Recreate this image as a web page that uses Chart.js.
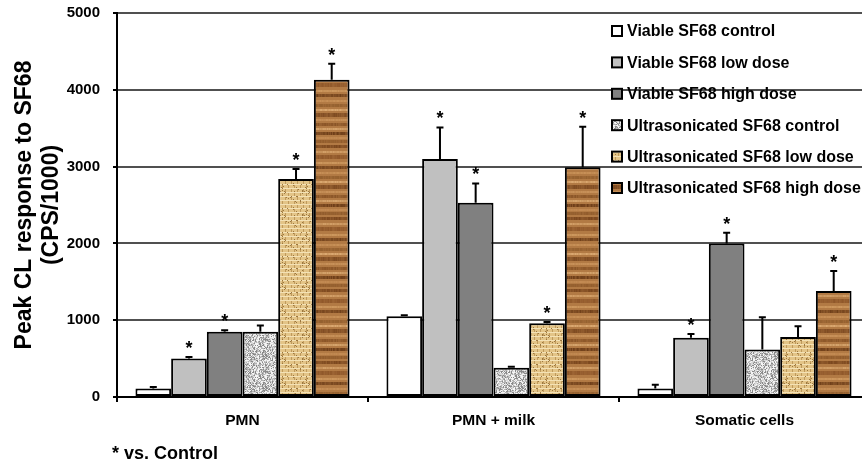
<!DOCTYPE html>
<html>
<head>
<meta charset="utf-8">
<script src="https://cdn.jsdelivr.net/npm/chart.js@4.4.1/dist/chart.umd.min.js"></script>
<style>
    html, body { margin: 0; padding: 0; background: #fff; overflow: hidden; }
    canvas { display: block; }
</style>
</head>
<body>
<canvas id="chartPeak" width="872" height="464"></canvas>
<script>
var categories = ['PMN', 'PMN + milk', 'Somatic cells'];
var seriesLabels = [
    'Viable SF68 control',
    'Viable SF68 low dose',
    'Viable SF68 high dose',
    'Ultrasonicated SF68 control',
    'Ultrasonicated SF68 low dose',
    'Ultrasonicated SF68 high dose'
];

// mean values (CPS/1000)
var viableControl = [110, 1050, 110];
var viableLow = [500, 3100, 770];
var viableHigh = [850, 2530, 2000];
var ultraControl = [850, 380, 620];
var ultraLow = [2840, 960, 780];
var ultraHigh = [4130, 2990, 1380];

// upper error bars
var viableControlErr = [20, 15, 50];
var viableLowErr = [20, 410, 50];
var viableHighErr = [20, 250, 140];
var ultraControlErr = [80, 15, 420];
var ultraLowErr = [130, 15, 140];
var ultraHighErr = [210, 530, 260];

// * = significant vs. control
var viableControlSig = [0, 0, 0];
var viableLowSig = [1, 1, 1];
var viableHighSig = [1, 1, 1];
var ultraControlSig = [0, 0, 0];
var ultraLowSig = [1, 1, 0];
var ultraHighSig = [1, 1, 1];

var yTicks = [0, 1000, 2000, 3000, 4000, 5000];

var fontFamily = "'Liberation Sans', Arial, sans-serif";

// small deterministic hash used only for the bar textures
function grain(x, y, k) {
    var v = Math.sin(x * 12.9898 + y * 78.233 + k * 37.719) * 43758.5453;
    return v - Math.floor(v);
}

function speckleFill() {
    var c = document.createElement('canvas');
    c.width = 32; c.height = 32;
    var g = c.getContext('2d');
    g.fillStyle = '#d4d4d4';
    g.fillRect(0, 0, 32, 32);
    for (var x = 0; x < 32; x++) {
        for (var y = 0; y < 32; y++) {
            var v = grain(x, y, 1);
            if (v < 0.22) g.fillStyle = '#8a8a8a';
            else if (v < 0.45) g.fillStyle = '#b2b2b2';
            else if (v < 0.75) g.fillStyle = '#d9d9d9';
            else g.fillStyle = '#f5f5f5';
            g.fillRect(x, y, 1, 1);
        }
    }
    return g.createPattern(c, 'repeat');
}

function weaveFill() {
    var c = document.createElement('canvas');
    c.width = 24; c.height = 24;
    var g = c.getContext('2d');
    g.fillStyle = '#e3c487';
    g.fillRect(0, 0, 24, 24);
    for (var row = 0; row < 6; row++) {
        var off = (row % 2) * 3;
        g.fillStyle = '#f4e2b6';
        g.fillRect(0, row * 4, 24, 1);
        g.fillStyle = '#bf9a5c';
        for (var col = 0; col < 4; col++) {
            g.fillRect((col * 6 + off) % 24, row * 4 + 1, 1, 3);
        }
    }
    for (var x = 0; x < 24; x++) {
        for (var y = 0; y < 24; y++) {
            if (grain(x, y, 2) < 0.05) {
                g.fillStyle = '#9c7840';
                g.fillRect(x, y, 1, 1);
            }
        }
    }
    return g.createPattern(c, 'repeat');
}

function woodFill() {
    var c = document.createElement('canvas');
    c.width = 40; c.height = 72;
    var g = c.getContext('2d');
    g.fillStyle = '#b27a44';
    g.fillRect(0, 0, 40, 72);
    var stripes = [
        [1, 3, '#7a461d'], [7, 2, '#d3a068'], [11, 4, '#8e5629'], [18, 2, '#cf9a60'],
        [22, 3, '#6f3f19'], [28, 2, '#c89158'], [32, 3, '#94602f'], [37, 2, '#dcaa72'],
        [41, 4, '#7d4a21'], [47, 2, '#c8925a'], [51, 3, '#8a5527'], [56, 2, '#d6a56d'],
        [60, 3, '#6c3c17'], [65, 2, '#c48c54'], [68, 3, '#915c2c']
    ];
    stripes.forEach(function (s) {
        for (var x = 0; x < 40; x++) {
            g.globalAlpha = 0.6 + 0.4 * grain(x, s[0], 3);
            g.fillStyle = s[2];
            g.fillRect(x, s[0], 1, s[1]);
        }
    });
    g.globalAlpha = 1;
    return g.createPattern(c, 'repeat');
}

var fills = ['#ffffff', '#c0c0c0', '#808080', speckleFill(), weaveFill(), woodFill()];
var seriesValues = [viableControl, viableLow, viableHigh, ultraControl, ultraLow, ultraHigh];
var seriesErrors = [viableControlErr, viableLowErr, viableHighErr, ultraControlErr, ultraLowErr, ultraHighErr];
var seriesSig = [viableControlSig, viableLowSig, viableHighSig, ultraControlSig, ultraLowSig, ultraHighSig];

var datasets = seriesLabels.map(function (label, i) {
    return {
        label: label,
        data: seriesValues[i],
        backgroundColor: fills[i],
        borderColor: '#000',
        borderWidth: 2,
        borderSkipped: false,
        categoryPercentage: 0.853,
        barPercentage: 1.0
    };
});

var errorBars = {
    id: 'errorBars',
    afterDatasetsDraw: function (chart) {
        var ctx = chart.ctx;
        var yScale = chart.scales.y;
        ctx.save();
        chart.data.datasets.forEach(function (ds, i) {
            var meta = chart.getDatasetMeta(i);
            meta.data.forEach(function (bar, j) {
                var top = yScale.getPixelForValue(seriesValues[i][j] + seriesErrors[i][j]);
                ctx.strokeStyle = '#000';
                ctx.lineWidth = 2;
                ctx.beginPath();
                ctx.moveTo(bar.x, bar.y);
                ctx.lineTo(bar.x, top);
                ctx.moveTo(bar.x - 3.5, top);
                ctx.lineTo(bar.x + 3.5, top);
                ctx.stroke();
                if (seriesSig[i][j]) {
                    ctx.fillStyle = '#000';
                    ctx.font = 'bold 18px ' + fontFamily;
                    ctx.textAlign = 'center';
                    ctx.textBaseline = 'alphabetic';
                    ctx.fillText('*', bar.x, top - 3);
                }
            });
        });
        ctx.restore();
    }
};

var sideLegend = {
    id: 'sideLegend',
    afterDraw: function (chart) {
        var ctx = chart.ctx;
        ctx.save();
        ctx.font = 'bold 16px ' + fontFamily;
        ctx.textBaseline = 'middle';
        ctx.textAlign = 'left';
        chart.data.datasets.forEach(function (ds, i) {
            var y = 31 + i * 31.4;
            ctx.fillStyle = ds.backgroundColor;
            ctx.fillRect(612, y - 5, 10, 10);
            ctx.strokeStyle = '#000';
            ctx.lineWidth = 2;
            ctx.strokeRect(612, y - 5, 10, 10);
            ctx.fillStyle = '#000';
            ctx.fillText(ds.label, 627, y + 1);
        });
        ctx.font = 'bold 18px ' + fontFamily;
        ctx.fillText('* vs. Control', 112, 454);
        ctx.restore();
    }
};

var ctx = document.getElementById('chartPeak');
var chartPeak = new Chart(ctx, {
    type: 'bar',
    data: {
        labels: categories,
        datasets: datasets
    },
    options: {
        responsive: false,
        animation: false,
        layout: { padding: { top: 13, right: 2, left: 0, bottom: 0 } },
        plugins: {
            legend: { display: false },
            tooltip: { enabled: false }
        },
        scales: {
            x: {
                grid: { display: true, drawOnChartArea: false, drawTicks: true, tickLength: 5, color: '#000', lineWidth: 2, offset: true },
                border: { display: true, color: '#000', width: 2 },
                ticks: { color: '#000', font: { family: fontFamily, size: 15.5, weight: 'bold' }, padding: 9, maxRotation: 0 },
                afterFit: function (scale) { scale.height = 67; }
            },
            y: {
                min: 0,
                max: 5000,
                afterBuildTicks: function (scale) {
                    scale.ticks = yTicks.map(function (v) { return { value: v }; });
                },
                ticks: {
                    color: '#000',
                    font: { family: fontFamily, size: 15, weight: 'bold' },
                    padding: 13,
                    callback: function (value) { return String(value); }
                },
                grid: { color: '#505050', lineWidth: 2, tickLength: 4, tickColor: '#000' },
                border: { display: true, color: '#000', width: 2 },
                title: {
                    display: true,
                    text: ['Peak CL response to SF68', '(CPS/1000)'],
                    color: '#000',
                    font: { family: fontFamily, size: 23, weight: 'bold', lineHeight: 1.174 },
                    padding: { top: 11, bottom: 0 }
                },
                afterFit: function (scale) {
                    scale.width = 117;
                    scale.paddingTop = 0;
                    scale.paddingBottom = 0;
                }
            }
        }
    },
    plugins: [errorBars, sideLegend]
});
</script>
</body>
</html>
